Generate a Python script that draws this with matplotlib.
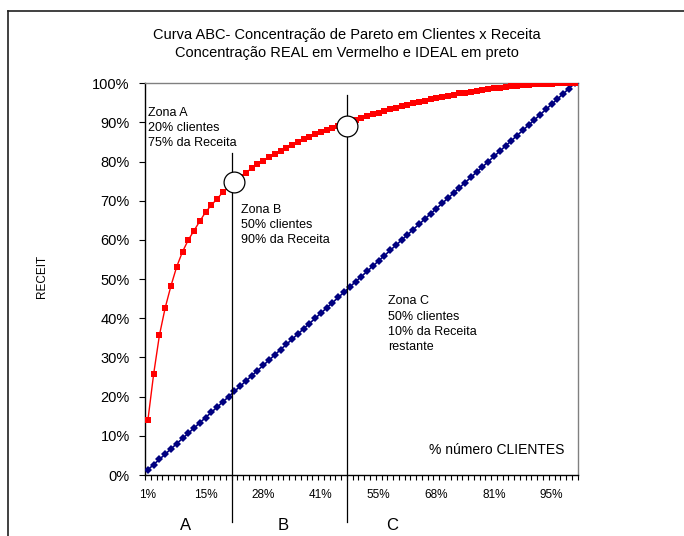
import matplotlib
matplotlib.use("Agg")
import matplotlib.pyplot as plt
from matplotlib.lines import Line2D

plt.rcParams['font.family'] = ['Liberation Sans', 'DejaVu Sans']

# 75 client groups, cumulative share of revenue (%)
n_groups = 75
receita_real = [14.0, 25.8, 35.7, 42.7, 48.3, 53.2, 57.0, 60.0, 62.4, 64.8,
                67.1, 68.9, 70.5, 72.2, 73.6, 74.9, 76.1, 77.2, 78.3, 79.3,
                80.2, 81.1, 82.0, 82.8, 83.6, 84.3, 85.0, 85.7, 86.4, 87.0,
                87.6, 88.1, 88.6, 89.1, 89.5, 90.0, 90.6, 91.1, 91.6, 92.1,
                92.5, 93.0, 93.4, 93.8, 94.2, 94.5, 94.9, 95.2, 95.6, 95.9,
                96.2, 96.5, 96.8, 97.1, 97.4, 97.6, 97.9, 98.1, 98.3, 98.5,
                98.7, 98.9, 99.1, 99.2, 99.4, 99.5, 99.6, 99.7, 99.8, 99.9,
                99.9, 100.0, 100.0, 100.0, 100.0]
grupos = list(range(1, n_groups + 1))
receita_ideal = [100.0 * g / n_groups for g in grupos]

# every 10th group gets a label
label_groups = [1, 11, 21, 31, 41, 51, 61, 71]
label_text = ["1%", "15%", "28%", "41%", "55%", "68%", "81%", "95%"]

# zone limits (group boundaries) and where the real curve crosses them
zone_limits = [15.5, 35.5]
zone_tops = [82.3, 96.9]
cross_x = [15.85, 35.5]
cross_y = [74.7, 89.2]

fig = plt.figure(figsize=(6.84, 5.36), dpi=100)
ax = fig.add_axes([0.212, 0.1138, 0.6325, 0.7308])

ax.plot(grupos, receita_ideal, color='#000080', lw=1.2, marker='D',
        markersize=3.8, markeredgewidth=0, zorder=3)
ax.plot(grupos, receita_real, color='red', lw=1.0, marker='s',
        markersize=4.3, markeredgewidth=0, zorder=4)

for xl, top in zip(zone_limits, zone_tops):
    ax.plot([xl, xl], [-12.0, top], color='black', lw=0.9, clip_on=False,
            zorder=5)
ax.plot(cross_x, cross_y, 'o', markersize=15, markerfacecolor='white',
        markeredgecolor='black', markeredgewidth=0.9, zorder=6, clip_on=False)

ax.set_xlim(0.5, n_groups + 0.5)
ax.set_ylim(0, 100)
ax.set_yticks(range(0, 101, 10))
ax.set_yticklabels([f"{v}%" for v in range(0, 101, 10)], fontsize=10.5)
ax.set_xticks([g + 0.5 for g in range(0, n_groups + 1)])
ax.set_xticklabels([])
ax.set_xticks(label_groups, minor=True)
ax.set_xticklabels(label_text, minor=True, fontsize=8.5)
ax.tick_params(axis='x', which='major', direction='out', length=3.5,
               width=0.8)
ax.tick_params(axis='x', which='minor', length=0, pad=10)
ax.tick_params(axis='y', direction='out', length=4, width=0.8, pad=7)

for side in ['top', 'right']:
    ax.spines[side].set_color('#808080')
    ax.spines[side].set_linewidth(1.0)
for side in ['left', 'bottom']:
    ax.spines[side].set_color('black')
    ax.spines[side].set_linewidth(1.0)

txt = dict(fontsize=9, linespacing=1.35, va='center', ha='left')
ax.text(1.07, 88.5, "Zona A\n20% clientes\n75% da Receita", **txt)
ax.text(17.14, 63.8, "Zona B\n50% clientes\n90% da Receita", **txt)
ax.text(42.6, 38.5, "Zona C\n50% clientes\n10% da Receita\nrestante", **txt)
ax.text(49.77, 6.4, "% número CLIENTES", fontsize=10, va='center', ha='left')

for lbl, xp in zip(["A", "B", "C"], [7.5, 24.4, 43.4]):
    ax.text(xp, -12.8, lbl, fontsize=12, ha='center', va='center',
            clip_on=False)

fig.text(0.507, 0.918,
         "Curva ABC- Concentração de Pareto em Clientes x Receita\n"
         "Concentração REAL em Vermelho e IDEAL em preto",
         fontsize=10.5, ha='center', va='center', linespacing=1.3)
fig.text(0.061, 0.4838, "RECEIT", fontsize=8.5, rotation=90,
         ha='center', va='center')

# outer chart frame (left and top edges show)
fig.add_artist(Line2D([7.5 / 684, 7.5 / 684], [0, 1 - 10.7 / 536],
                      color='#202020', lw=1.2))
fig.add_artist(Line2D([7.5 / 684, 1], [1 - 10.7 / 536, 1 - 10.7 / 536],
                      color='#202020', lw=1.2))

fig.savefig("out.png", dpi=100)
